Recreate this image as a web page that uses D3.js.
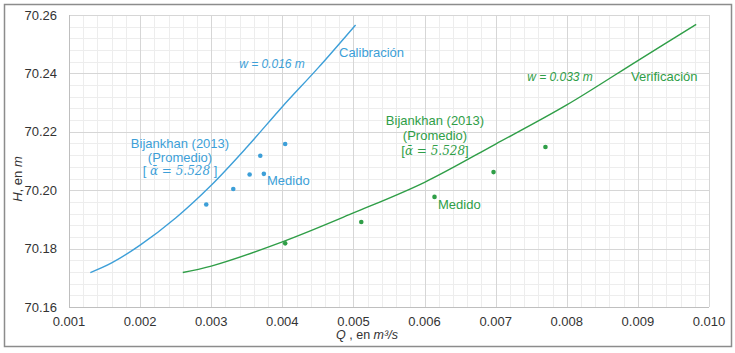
<!DOCTYPE html>
<html>
<head>
<meta charset="utf-8">
<script src="https://cdn.jsdelivr.net/npm/d3@7"></script>
<style>
  body { margin: 0; background: #fff; }
  text { font-family: "Liberation Sans", Arial, sans-serif; }
</style>
</head>
<body>
<svg width="735" height="353"></svg>
<script>
// curves (Q in m3/s, H in m)
const calQ = [0.0013, 0.0016, 0.0020, 0.0025, 0.0030, 0.0035, 0.0040, 0.0045, 0.00503];
const calH = [70.1718, 70.1751, 70.1812, 70.1905, 70.2017, 70.2147, 70.2286, 70.2418, 70.2566];
const verQ = [0.0026, 0.0030, 0.0040, 0.0050, 0.0060, 0.0070, 0.0080, 0.0090, 0.00982];
const verH = [70.1718, 70.1740, 70.1823, 70.1922, 70.2027, 70.2158, 70.2292, 70.2444, 70.2568];

// measured points
const calPtQ = [0.00293, 0.00331, 0.00354, 0.00374, 0.00369, 0.00404];
const calPtH = [70.1951, 70.2004, 70.2054, 70.2056, 70.2118, 70.2158];
const verPtQ = [0.00404, 0.00511, 0.00614, 0.00697, 0.00770];
const verPtH = [70.1818, 70.1891, 70.1977, 70.2062, 70.2148];

const xTicks = [0.001, 0.002, 0.003, 0.004, 0.005, 0.006, 0.007, 0.008, 0.009, 0.010];
const yTicks = [70.16, 70.18, 70.20, 70.22, 70.24, 70.26];

const blue = "#3d9fd8";
const green = "#2f9e47";

const svg = d3.select("svg");
const margin = { top: 15, right: 26, bottom: 46, left: 69 };
const width = 735 - margin.left - margin.right;
const height = 353 - margin.top - margin.bottom;

// outer frame
svg.append("rect")
    .attr("x", 4.5).attr("y", 4.5)
    .attr("width", 727).attr("height", 342)
    .attr("fill", "none").attr("stroke", "#8c8c8c").attr("stroke-width", 1.5);

const g = svg.append("g").attr("transform", "translate(" + margin.left + "," + margin.top + ")");

const x = d3.scaleLinear().domain([0.001, 0.010]).range([0, width]);
const y = d3.scaleLinear().domain([70.16, 70.26]).range([height, 0]);

// minor grid
const xMinor = d3.range(0, 46).map(i => 0.001 + i * 0.0002);
const yMinor = d3.range(0, 26).map(i => 70.16 + i * 0.004);
g.selectAll(".xminor").data(xMinor).enter().append("line")
    .attr("x1", d => Math.round(x(d)) + 0.5).attr("x2", d => Math.round(x(d)) + 0.5)
    .attr("y1", 0).attr("y2", height)
    .attr("stroke", "#ededed");
g.selectAll(".yminor").data(yMinor).enter().append("line")
    .attr("y1", d => Math.round(y(d)) + 0.5).attr("y2", d => Math.round(y(d)) + 0.5)
    .attr("x1", 0).attr("x2", width)
    .attr("stroke", "#ededed");

// major grid
g.selectAll(".xmajor").data(xTicks).enter().append("line")
    .attr("x1", d => Math.round(x(d)) + 0.5).attr("x2", d => Math.round(x(d)) + 0.5)
    .attr("y1", 0).attr("y2", height)
    .attr("stroke", "#d6d6d6");
g.selectAll(".ymajor").data(yTicks).enter().append("line")
    .attr("y1", d => Math.round(y(d)) + 0.5).attr("y2", d => Math.round(y(d)) + 0.5)
    .attr("x1", 0).attr("x2", width)
    .attr("stroke", "#d6d6d6");

// axis lines
g.append("line").attr("x1", 0.5).attr("x2", 0.5).attr("y1", 0).attr("y2", height)
    .attr("stroke", "#bfbfbf");
g.append("line").attr("x1", 0).attr("x2", width)
    .attr("y1", Math.round(height) + 0.5).attr("y2", Math.round(height) + 0.5)
    .attr("stroke", "#bfbfbf");

// tick labels
g.selectAll(".xlab").data(xTicks).enter().append("text")
    .attr("x", d => x(d)).attr("y", height + 18.5)
    .attr("text-anchor", "middle").attr("font-size", 13).attr("fill", "#333")
    .text(d3.format(".3f"));
g.selectAll(".ylab").data(yTicks).enter().append("text")
    .attr("x", -12).attr("y", d => y(d) + 4.5)
    .attr("text-anchor", "end").attr("font-size", 13).attr("fill", "#333")
    .text(d3.format(".2f"));

// axis titles
const xt = svg.append("text")
    .attr("x", 367).attr("y", 339)
    .attr("text-anchor", "middle").attr("font-size", 12.5).attr("fill", "#333");
xt.append("tspan").attr("font-style", "italic").text("Q");
xt.append("tspan").text(" , en ");
xt.append("tspan").attr("font-style", "italic").text("m³/s");

const yt = svg.append("text")
    .attr("transform", "translate(22,179) rotate(-90)")
    .attr("text-anchor", "middle").attr("font-size", 13).attr("fill", "#333");
yt.append("tspan").attr("font-style", "italic").text("H");
yt.append("tspan").text(", en ");
yt.append("tspan").attr("font-style", "italic").text("m");

// curves
const line = d3.line()
    .x(d => x(d[0]))
    .y(d => y(d[1]))
    .curve(d3.curveCatmullRom);

g.append("path")
    .datum(calQ.map((q, i) => [q, calH[i]]))
    .attr("fill", "none").attr("stroke", blue).attr("stroke-width", 1.4)
    .attr("d", line);
g.append("path")
    .datum(verQ.map((q, i) => [q, verH[i]]))
    .attr("fill", "none").attr("stroke", green).attr("stroke-width", 1.4)
    .attr("d", line);

// points
g.selectAll(".calpt").data(calPtQ.map((q, i) => [q, calPtH[i]])).enter().append("circle")
    .attr("cx", d => x(d[0])).attr("cy", d => y(d[1])).attr("r", 2.3)
    .attr("fill", blue);
g.selectAll(".verpt").data(verPtQ.map((q, i) => [q, verPtH[i]])).enter().append("circle")
    .attr("cx", d => x(d[0])).attr("cy", d => y(d[1])).attr("r", 2.3)
    .attr("fill", green);

// annotations
const mathFont = "'DejaVu Serif', 'Liberation Serif', serif";

function label(xp, yp, txt, color, anchor) {
    svg.append("text")
        .attr("x", xp).attr("y", yp)
        .attr("text-anchor", anchor || "start")
        .attr("font-size", 13).attr("fill", color)
        .text(txt);
}

function mathLabel(xp, yp, txt, color) {
    svg.append("text")
        .attr("x", xp).attr("y", yp)
        .attr("text-anchor", "middle")
        .attr("font-family", mathFont).attr("font-style", "italic")
        .attr("font-size", 12).attr("fill", color)
        .text(txt);
}

function alphaLabel(xp, yp, color, spaced) {
    const t = svg.append("text")
        .attr("x", xp).attr("y", yp)
        .attr("text-anchor", "middle")
        .attr("font-size", 13).attr("fill", color);
    t.append("tspan").text(spaced ? "[ " : "[");
    t.append("tspan").attr("font-family", mathFont).attr("font-style", "italic")
        .attr("font-size", 12).text("ᾱ = 5.528");
    t.append("tspan").text(spaced ? " ]" : "]");
}

mathLabel(272, 68, "w = 0.016 m", blue);
label(339, 57, "Calibración", blue);
label(180, 148, "Bijankhan  (2013)", blue, "middle");
label(180, 162, "(Promedio)", blue, "middle");
alphaLabel(180, 175, blue, true);
label(267, 185, "Medido", blue);

mathLabel(560, 81, "w = 0.033 m", green);
label(631, 81, "Verificación", green);
label(435, 125, "Bijankhan  (2013)", green, "middle");
label(435, 140, "(Promedio)", green, "middle");
alphaLabel(435, 155, green, false);
label(438, 209, "Medido", green);
</script>
</body>
</html>
